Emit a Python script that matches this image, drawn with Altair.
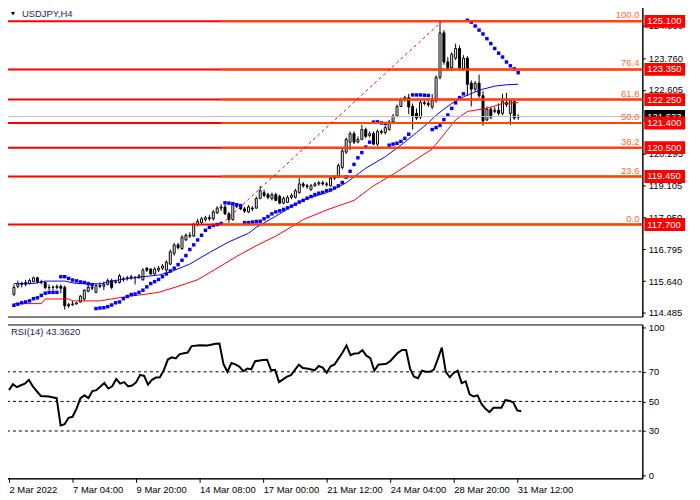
import altair as alt
import pandas as pd

# ---------------- data ----------------
symbol_title = "USDJPY,H4"
bars = list(range(130))
opens = [115.16,115.45,115.55,115.52,115.55,115.62,115.76,115.62,115.59,115.41,
         115.41,115.41,115.45,115.41,114.78,114.78,114.81,114.88,114.99,115.27,
         115.41,115.23,115.48,115.45,115.52,115.66,115.59,115.59,115.69,115.73,
         115.76,115.76,115.76,115.69,116.11,116.08,115.90,116.04,116.11,116.04,
         116.26,116.65,116.96,116.82,117.14,117.31,117.28,117.70,117.77,117.88,
         117.95,117.91,118.12,118.30,118.34,118.09,117.88,118.44,118.37,118.27,
         118.16,118.30,118.30,118.65,118.86,118.79,118.65,118.79,118.72,118.48,
         118.51,118.69,118.69,118.86,119.18,119.11,118.97,119.11,119.18,119.22,
         119.18,119.11,119.39,119.43,119.78,120.34,120.70,121.01,120.70,120.80,
         121.16,120.94,121.01,120.63,121.09,121.05,121.16,121.44,121.65,122.00,
         122.25,122.32,122.00,121.75,121.61,122.14,122.11,121.98,122.21,123.06,
         124.68,123.62,123.41,123.76,124.11,123.37,123.76,122.85,122.63,122.85,
         122.39,121.51,121.90,121.82,121.86,121.75,122.14,121.75,122.18,121.61]
highs = [115.52,115.66,115.62,115.69,115.73,115.80,115.80,115.69,115.62,115.52,
         115.48,115.52,115.52,115.48,114.85,114.92,114.88,115.13,115.34,115.55,
         115.48,115.55,115.59,115.62,115.73,115.73,115.69,115.90,115.80,115.83,
         115.87,115.83,115.90,116.11,116.15,116.11,116.15,116.19,116.26,116.40,
         116.79,117.03,117.03,117.31,117.38,117.42,117.77,117.91,117.98,118.02,
         118.05,118.23,118.37,118.44,118.41,118.16,118.47,118.46,118.41,118.34,
         118.41,118.37,118.72,119.11,118.97,118.86,118.86,118.86,118.79,118.72,
         118.76,118.83,119.00,119.39,119.25,119.18,119.18,119.25,119.29,119.29,
         119.25,119.46,119.50,119.92,120.45,120.87,121.09,121.09,120.91,121.33,
         121.23,121.09,121.09,121.16,121.16,121.30,121.51,121.72,122.07,122.32,
         122.39,122.46,122.11,121.93,122.25,122.25,122.21,122.45,123.13,125.10,
         124.78,123.80,123.97,124.29,124.22,123.87,123.83,122.95,122.92,123.16,
         122.56,122.00,121.98,121.98,122.11,122.46,122.49,122.25,122.25,121.72]
lows = [115.09,115.38,115.41,115.45,115.52,115.59,115.55,115.52,115.34,115.31,
        115.31,115.34,115.20,114.60,114.67,114.74,114.78,114.85,114.92,115.23,
        115.31,115.20,115.38,115.31,115.48,115.34,115.55,115.55,115.62,115.66,
        115.69,115.52,115.73,115.66,115.97,115.87,115.87,115.97,116.04,115.97,
        116.22,116.57,116.79,116.79,117.10,117.21,117.24,117.63,117.70,117.81,
        117.84,117.84,118.09,118.19,118.05,117.77,117.84,118.30,118.23,118.12,
        118.12,118.19,118.27,118.62,118.69,118.62,118.58,118.55,118.44,118.44,
        118.48,118.62,118.65,118.83,119.04,119.00,118.93,119.08,119.11,119.11,
        119.08,119.08,119.32,119.39,119.71,120.27,120.41,120.63,120.66,120.77,
        120.84,120.87,120.59,120.56,120.98,120.98,121.12,121.37,121.61,121.98,
        122.18,121.72,121.16,121.51,121.54,122.04,121.98,121.90,122.14,122.99,
        123.52,123.30,123.30,123.69,123.34,123.30,122.39,122.00,122.53,122.32,
        121.30,121.47,121.54,121.75,121.68,121.68,121.98,121.33,121.51,121.51]
closes = [115.41,115.55,115.52,115.59,115.66,115.76,115.62,115.59,115.41,115.40,
          115.42,115.45,115.38,114.74,114.74,114.81,114.85,115.09,115.31,115.41,
          115.38,115.48,115.45,115.52,115.66,115.41,115.62,115.83,115.73,115.76,
          115.80,115.77,115.83,116.04,116.04,115.90,116.08,116.11,116.19,116.33,
          116.71,116.96,116.86,117.24,117.31,117.28,117.70,117.81,117.91,117.95,
          117.91,118.16,118.30,118.34,118.09,117.88,118.44,118.37,118.27,118.19,
          118.34,118.27,118.65,118.93,118.76,118.69,118.79,118.58,118.48,118.65,
          118.69,118.76,118.93,119.18,119.11,119.08,119.11,119.18,119.22,119.18,
          119.15,119.39,119.43,119.85,120.38,120.80,121.01,120.70,120.80,121.16,
          120.91,121.01,120.63,121.09,121.05,121.23,121.44,121.65,122.00,122.25,
          122.32,121.98,121.65,121.58,122.14,122.11,122.07,122.21,123.06,124.68,
          123.62,123.41,123.90,124.11,123.41,123.76,122.81,122.63,122.85,122.39,
          121.47,121.90,121.61,121.86,121.75,122.18,122.07,122.21,121.58,121.633]
sar = [114.76,114.80,114.85,114.88,114.92,115.00,115.03,115.12,115.20,115.23,
       115.23,115.23,115.80,115.80,115.74,115.68,115.65,115.61,115.59,115.55,
       115.51,114.64,114.66,114.67,114.71,114.77,114.85,114.88,115.00,115.08,
       115.15,115.17,115.23,115.31,115.43,115.55,115.62,115.70,115.80,115.90,
       116.01,116.11,116.24,116.40,116.57,116.79,116.96,117.14,117.31,117.49,
       117.60,117.67,117.70,117.74,118.49,118.48,118.46,118.42,118.39,117.77,
       117.77,117.79,117.81,117.82,117.91,117.99,118.09,118.16,118.20,118.25,
       118.31,118.37,118.44,118.52,118.58,118.66,118.72,118.79,118.84,118.87,
       118.93,118.96,119.03,119.11,119.23,119.43,119.64,119.89,120.13,120.32,
       120.52,120.70,121.43,121.44,121.40,121.38,120.59,120.63,120.66,120.73,
       120.84,120.99,122.42,122.42,122.42,122.41,122.40,121.16,121.23,121.31,
       121.52,121.69,121.93,122.13,122.32,122.46,125.14,125.07,124.93,124.78,
       124.64,124.47,124.29,124.11,123.94,123.80,123.62,123.48,123.37,123.23]

fast_ma_bar = [0,5,8,13,16,22,25,29,33,37,40,45,50,55,60,62,65,68,72,75,
               80,85,90,95,100,103,106,108,110,112,115,118,120,123,126,129]
fast_ma = [115.55,115.55,115.64,115.64,115.55,115.54,115.64,115.73,115.80,115.86,
           115.97,116.26,116.68,117.07,117.38,117.60,117.84,118.09,118.44,118.65,
           118.86,119.22,119.75,120.17,120.70,121.05,121.40,121.68,121.90,122.11,
           122.35,122.53,122.63,122.74,122.79,122.81]
slow_ma_bar = [0,7,8,14,15,22,25,29,33,37,42,47,52,57,62,67,72,74,80,87,
               92,97,102,107,108,113,116,121,125,129]
slow_ma = [114.82,114.82,114.99,114.99,114.92,114.92,114.99,115.08,115.15,115.23,
           115.45,115.69,116.11,116.54,116.93,117.28,117.70,117.88,118.23,118.58,
           119.11,119.53,119.99,120.45,120.63,121.51,121.82,121.93,122.11,122.14]

rsi_name = "RSI(14)"
rsi_last = 43.3620
rsi_bar = [0,1,2,3,4,5,6,8,10,12,13,14,15,16,17,18,19,20,21,22,
           24,25,26,27,28,29,30,31,32,33,34,35,36,37,38,39,40,41,42,43,
           45,46,48,50,52,53,54,55,56,57,58,59,60,61,62,64,65,66,67,68,
           70,71,73,74,75,77,78,79,80,81,82,84,85,86,87,88,89,90,91,92,
           93,95,96,97,98,99,100,101,102,103,104,105,106,107,108,109,110,111,112,113,
           114,115,116,117,118,119,120,121,122,124,125,126,127,128,129]
rsi_val = [57.6,61.7,59.6,60.9,62.0,64.6,60.2,53.7,53.3,52.2,
           33.7,34.6,38.9,39.6,45.0,52.2,54.1,52.2,57.0,57.6,
           62.4,58.7,60.2,65.2,62.0,63.0,60.2,60.7,62.8,67.8,
           67.4,61.3,64.6,66.1,66.3,71.1,78.3,79.8,79.1,82.0,
           83.0,87.4,88.0,87.8,88.9,89.1,75.4,70.0,75.9,75.0,
           73.5,70.4,72.2,71.7,77.2,78.0,78.2,71.1,71.3,63.0,
           66.7,67.8,74.8,72.6,72.2,71.1,73.9,72.8,69.3,73.7,
           75.0,83.0,87.8,81.3,82.4,82.6,84.6,80.9,79.3,70.7,
           74.8,75.4,77.2,80.2,83.0,84.8,84.8,72.2,66.7,65.7,
           70.7,70.0,70.0,71.5,78.7,86.3,70.0,66.3,69.3,70.7,
           62.4,63.5,54.8,53.3,54.1,48.3,45.0,42.8,45.7,45.7,
           50.9,50.4,49.3,43.9,43.36]
rsi_levels = [30, 50, 70]
rsi_ticks = [0, 30, 50, 70, 100]

level_prices = [125.10, 123.35, 122.25, 121.40, 120.50, 119.45, 117.70]
level_labels = ["125.100", "123.350", "122.250", "121.400", "120.500", "119.450", "117.700"]
fib_ratios = ["100.0", "76.4", "61.8", "50.0", "38.2", "23.6", "0.0"]
fib_start_bar = 53
fib_end_bar = 109.5
fib_low = 117.70
fib_high = 125.10
bid_price = 121.633

price_ticks = [114.485, 115.640, 116.795, 117.950, 119.105, 120.295, 122.605, 123.760, 124.930]
time_tick_bars = [0, 16, 32, 48, 64, 80, 96, 112, 128]
time_tick_labels = ["2 Mar 2022", "7 Mar 04:00", "9 Mar 20:00", "14 Mar 08:00", "17 Mar 00:00",
                    "21 Mar 12:00", "24 Mar 04:00", "28 Mar 20:00", "31 Mar 12:00"]

# ---------------- layout / style ----------------
W, H_MAIN, H_RSI = 640, 312, 155
FONT = "Liberation Sans"
NAVY = "#1c1c5c"
RED = "#FF0000"
FIB = "#FF4500"
FIB_TXT = "#FF6A2A"

xscale = alt.Scale(domain=[-0.5, 159.5], nice=False, zero=False)
yscale = alt.Scale(domain=[114.35, 125.63], nice=False, zero=False)
rscale = alt.Scale(domain=[-2, 102], nice=False, zero=False)

yaxis = alt.Axis(orient="right", values=price_ticks, format=".3f", title=None, grid=False,
                 tickSize=3, labelPadding=3, labelOverlap=False, labelFlush=False)
raxis = alt.Axis(orient="right", values=rsi_ticks, format="d", title=None, grid=False,
                 tickSize=3, labelPadding=3, labelOverlap=False, labelFlush=False)
label_expr = "[" + ",".join("'" + s + "'" for s in time_tick_labels) + "][indexof([" + \
             ",".join(str(b) for b in time_tick_bars) + "], datum.value)]"
xaxis = alt.Axis(orient="bottom", values=time_tick_bars, labelExpr=label_expr, title=None,
                 grid=False, tickSize=4, labelPadding=2, labelAlign="left", labelFlush=False,
                 labelOverlap=False, labelBaseline="top")


def X(f):
    return alt.X(f + ":Q", scale=xscale, axis=None)


def Y(f):
    return alt.Y(f + ":Q", scale=yscale, axis=yaxis)


candles = pd.DataFrame({"bar": bars, "open": opens, "high": highs, "low": lows, "close": closes})
sar_df = pd.DataFrame({"bar": bars, "sar": sar})
fast_df = pd.DataFrame({"bar": fast_ma_bar, "ma": fast_ma})
slow_df = pd.DataFrame({"bar": slow_ma_bar, "ma": slow_ma})
levels_df = pd.DataFrame({"price": level_prices, "label": level_labels, "ratio": fib_ratios,
                          "start": [fib_start_bar] * len(level_prices)})
diag_df = pd.DataFrame({"bar": [fib_start_bar, fib_end_bar], "price": [fib_low, fib_high]})
bid_df = pd.DataFrame({"price": [bid_price], "label": [f"{bid_price:.3f}"]})
title_df = pd.DataFrame({"t": [symbol_title]})

wicks = alt.Chart(candles).mark_rule(color="black", strokeWidth=1).encode(
    x=X("bar"), y=Y("low"), y2="high:Q")
bodies = alt.Chart(candles).transform_calculate(
    dir="datum.close >= datum.open ? 'up' : 'down'"
).mark_bar(size=2, stroke="black", strokeWidth=1).encode(
    x=X("bar"), y=Y("open"), y2="close:Q",
    fill=alt.Fill("dir:N", scale=alt.Scale(domain=["up", "down"], range=["white", "black"]), legend=None))
fast_line = alt.Chart(fast_df).mark_line(color="#0000FF", strokeWidth=1).encode(x=X("bar"), y=Y("ma"))
slow_line = alt.Chart(slow_df).mark_line(color=RED, strokeWidth=1).encode(x=X("bar"), y=Y("ma"))
sar_pts = alt.Chart(sar_df).mark_square(size=12, color="#0000FF", opacity=1).encode(x=X("bar"), y=Y("sar"))

bid_line = alt.Chart(bid_df).mark_rule(color="#C0C0C0", strokeWidth=1).encode(
    x=alt.value(0), x2=alt.value(W), y=Y("price"))
hlines = alt.Chart(levels_df).mark_rule(color=RED, strokeWidth=2).encode(
    x=alt.value(0), x2=alt.value(W), y=Y("price"))
fib_lines = alt.Chart(levels_df).mark_rule(color=FIB, strokeWidth=2).encode(
    x=X("start"), x2=alt.value(W), y=Y("price"))
fib_diag = alt.Chart(diag_df).mark_line(color=RED, strokeWidth=1, strokeDash=[3, 3]).encode(
    x=X("bar"), y=Y("price"))
fib_text = alt.Chart(levels_df).mark_text(align="right", baseline="bottom", dy=-1, color=FIB_TXT,
                                          font=FONT, fontSize=9.5).encode(
    x=alt.value(W - 3), y=Y("price"), text="ratio:N")

bid_box = alt.Chart(bid_df).mark_rule(color="black", strokeWidth=13).encode(
    x=alt.value(W + 2), x2=alt.value(W + 43), y=Y("price"))
bid_txt = alt.Chart(bid_df).mark_text(align="left", baseline="middle", color="white",
                                      font=FONT, fontSize=9.5).encode(
    x=alt.value(W + 5), y=Y("price"), text="label:N")
lvl_box = alt.Chart(levels_df).mark_rule(color=RED, strokeWidth=13).encode(
    x=alt.value(W + 2), x2=alt.value(W + 43), y=Y("price"))
lvl_txt = alt.Chart(levels_df).mark_text(align="left", baseline="middle", color="white",
                                         font=FONT, fontSize=9.5).encode(
    x=alt.value(W + 5), y=Y("price"), text="label:N")

tri = alt.Chart(title_df).mark_point(shape="triangle-down", filled=True, size=16,
                                     color="black", opacity=1).encode(x=alt.value(6), y=alt.value(7))
title_txt = alt.Chart(title_df).mark_text(align="left", baseline="middle", color=NAVY,
                                          font=FONT, fontSize=9.5).encode(
    x=alt.value(15), y=alt.value(7), text="t:N")

main = alt.layer(wicks, bodies, fast_line, slow_line, sar_pts, bid_line, hlines, fib_lines,
                 fib_diag, fib_text, bid_box, bid_txt, lvl_box, lvl_txt, tri, title_txt
                 ).properties(width=W, height=H_MAIN)

# ---------------- RSI panel ----------------
rsi_df = pd.DataFrame({"bar": rsi_bar, "rsi": rsi_val})
lvl_rsi_df = pd.DataFrame({"level": rsi_levels})
rsi_title_df = pd.DataFrame({"t": [f"{rsi_name} {rsi_last:.4f}"]})

rsi_levels_rule = alt.Chart(lvl_rsi_df).mark_rule(color="black", strokeWidth=1, strokeDash=[3, 3]).encode(
    x=alt.value(0), x2=alt.value(W), y=alt.Y("level:Q", scale=rscale, axis=raxis))
rsi_line = alt.Chart(rsi_df).mark_line(color="black", strokeWidth=2).encode(
    x=alt.X("bar:Q", scale=xscale, axis=xaxis),
    y=alt.Y("rsi:Q", scale=rscale, axis=raxis))
rsi_title = alt.Chart(rsi_title_df).mark_text(align="left", baseline="middle", color=NAVY,
                                              font=FONT, fontSize=9.5).encode(
    x=alt.value(4), y=alt.value(8), text="t:N")

rsi = alt.layer(rsi_levels_rule, rsi_line, rsi_title).properties(width=W, height=H_RSI)

chart = alt.vconcat(main, rsi, spacing=3).properties(
    padding={"left": -4, "top": -4, "right": 0, "bottom": 0},
    autosize=alt.AutoSizeParams(type="pad"),
    background="white"
).configure_view(stroke="black", strokeWidth=1).configure_axis(
    labelFont=FONT, labelFontSize=9.5, labelColor="black",
    domainColor="black", tickColor="black", domainWidth=1
)

chart.save("out.html", embed_options={"renderer": "svg", "actions": False})
